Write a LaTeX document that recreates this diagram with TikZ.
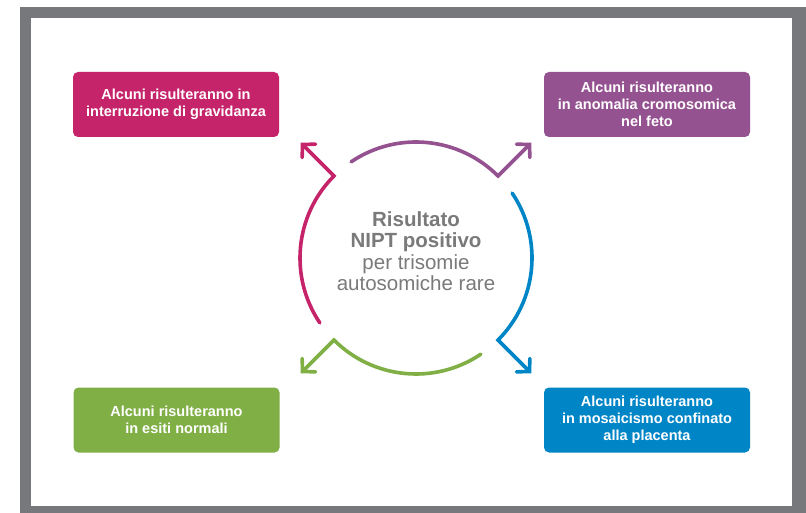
\documentclass[tikz,border=0pt]{standalone}
\usepackage{fontspec}
\setmainfont{Liberation Sans}
\usetikzlibrary{arrows.meta,calc}
\definecolor{cMag}{HTML}{C5246B}
\definecolor{cPur}{HTML}{955290}
\definecolor{cGrn}{HTML}{80AF46}
\definecolor{cBlu}{HTML}{0086C6}
\definecolor{cFrame}{HTML}{77787B}
\definecolor{cTxt}{HTML}{7A7A7A}
\tikzset{
  outbox/.style={draw=none, rounded corners=5pt, minimum width=206pt, minimum height=65pt,
    text=white, align=center, inner sep=0pt,
    font=\fontsize{14.5}{17}\selectfont\bfseries},
  flow/.style={line width=3.6pt, line cap=round, line join=miter,
    -{Straight Barb[length=9pt,width=19pt,line cap=round]}}
}
\begin{document}
\begin{tikzpicture}[x=1pt,y=1pt]
\useasboundingbox (0,0) rectangle (806,512);
\begin{scope}
\clip (0,0) rectangle (806,512);
\fill[cFrame] (20,505) rectangle (820,-10);
\fill[white] (31,494) rectangle (792,6);
\end{scope}
\coordinate (C) at (416,254);
% boxes
\node[outbox, fill=cMag] (bMag) at (176,407.5) {Alcuni risulteranno in\\interruzione di gravidanza};
\node[outbox, fill=cPur] (bPur) at (647,407.5) {Alcuni risulteranno\\in anomalia cromosomica\\nel feto};
\node[outbox, fill=cGrn] (bGrn) at (176.5,92) {Alcuni risulteranno\\in esiti normali};
\node[outbox, fill=cBlu] (bBlu) at (647,92) {Alcuni risulteranno\\in mosaicismo confinato\\alla placenta};
% centre text
\node[align=center, text=cTxt, inner sep=0pt, font=\fontsize{20.5}{21.5}\selectfont] (centre) at (416,261)
  {\textbf{Risultato}\\ \textbf{NIPT positivo}\\ per trisomie\\ autosomiche rare};
% arrow tips
\coordinate (tMag) at ($(C)+(135:163)$);
\coordinate (tPur) at ($(C)+(45:163)$);
\coordinate (tBlu) at ($(C)+(-45:163)$);
\coordinate (tGrn) at ($(C)+(-135:163)$);
% arcs with arrows
\draw[flow, cMag] ($(C)+(214:116)$) arc[start angle=214, end angle=135, radius=116] -- (tMag);
\draw[flow, cPur] ($(C)+(124:116)$) arc[start angle=124, end angle=45, radius=116] -- (tPur);
\draw[flow, cBlu] ($(C)+(34:116)$) arc[start angle=34, end angle=-45, radius=116] -- (tBlu);
\draw[flow, cGrn] ($(C)+(-56:116)$) arc[start angle=-56, end angle=-135, radius=116] -- (tGrn);
\end{tikzpicture}
\end{document}
